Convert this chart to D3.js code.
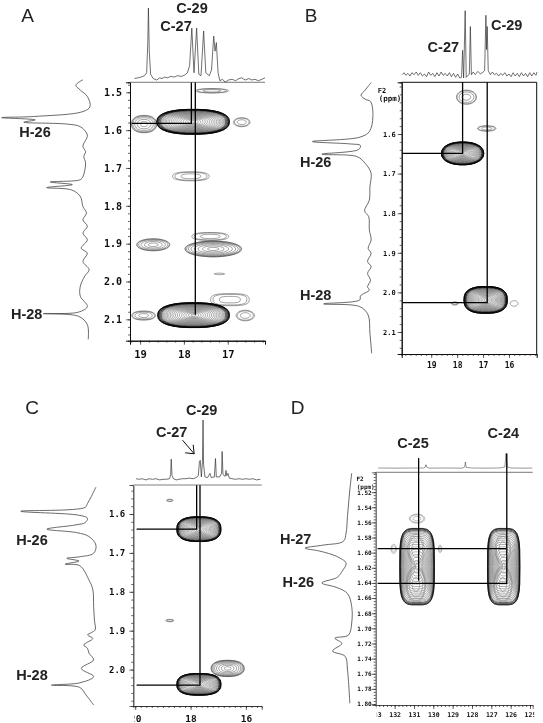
<!DOCTYPE html>
<html>
<head>
<meta charset="utf-8">
<script src="https://cdnjs.cloudflare.com/ajax/libs/d3/7.8.5/d3.min.js"></script>
<style>
html,body{margin:0;padding:0;background:#fff}
svg{display:block}
</style>
</head>
<body>
<script>
// 13C projections: [ppm, intensity 0-100]
const aTop = [[19.13,2],[19.05,3],[18.98,4],[18.9,6],[18.85,10],[18.825,50],[18.81,100],[18.79,40],[18.76,8],[18.7,2],[18.62,0],[18.55,3],[18.5,2],[18.44,4],[18.38,3],[18.3,5],[18.22,4],[18.15,6],[18.05,5],[17.98,7],[17.92,10],[17.87,20],[17.82,72],[17.77,10],[17.71,72],[17.66,8],[17.61,6],[17.55,68],[17.5,10],[17.42,6],[17.37,14],[17.32,61],[17.29,40],[17.26,52],[17.22,10],[17.18,-1],[17.12,1],[17.06,-3],[16.98,0],[16.9,1],[16.82,-1],[16.75,2],[16.68,3],[16.6,0],[16.52,2],[16.45,0],[16.38,1],[16.3,-1],[16.22,1],[16.15,3]];
const bTop = [[20.12,2],[20.05,5],[19.98,1],[19.9,4],[19.82,0],[19.75,5],[19.66,2],[19.58,6],[19.5,1],[19.42,5],[19.34,0],[19.26,3],[19.18,-1],[19.1,6],[19.02,1],[18.94,4],[18.86,-1],[18.78,5],[18.7,0],[18.62,6],[18.54,1],[18.46,4],[18.38,0],[18.3,5],[18.22,-1],[18.14,4],[18.06,-2],[17.98,3],[17.9,-3],[17.83,-2],[17.79,39],[17.75,-3],[17.69,99],[17.65,-2],[17.6,0],[17.53,3],[17.49,75],[17.45,2],[17.38,6],[17.3,2],[17.2,7],[17.1,3],[17,6],[16.94,8],[16.89,92],[16.865,40],[16.84,75],[16.8,8],[16.72,2],[16.64,6],[16.56,2],[16.48,4],[16.4,0],[16.32,4],[16.24,1],[16.16,5],[16.08,0],[16,3],[15.92,-1],[15.84,5],[15.76,0],[15.68,4],[15.6,-1],[15.52,5],[15.44,0],[15.36,4],[15.28,-1],[15.2,5],[15.12,0],[15.04,5],[14.96,1],[14.92,6]];
const cTop = [[19.97,1],[19.85,0],[19.75,1],[19.62,-1],[19.5,1],[19.38,0],[19.25,1],[19.12,-1],[19,0],[18.88,0],[18.76,1],[18.72,8],[18.7,34],[18.67,6],[18.62,1],[18.52,-1],[18.42,0],[18.3,1],[18.18,1],[18.05,2],[17.9,1],[17.8,3],[17.72,6],[17.68,30],[17.65,32],[17.61,4],[17.57,30],[17.55,100],[17.53,25],[17.48,4],[17.38,3],[17.3,10],[17.25,3],[17.14,4],[17.1,35],[17.07,4],[16.95,4],[16.88,10],[16.86,47],[16.83,8],[16.75,5],[16.72,15],[16.69,6],[16.65,10],[16.6,2],[16.5,1],[16.38,0],[16.25,1],[16.12,0],[16,1],[15.88,0],[15.75,1],[15.62,-1],[15.48,0]];
const dTop = [[132.85,2],[132,1],[131,2],[130.5,2],[130.42,8],[130.38,24],[130.34,8],[130.2,1],[129.4,2],[128.5,1],[128.38,8],[128.34,42],[128.3,6],[128,2],[127,1],[126.5,3],[126.3,10],[126.24,100],[126.18,10],[126,2],[125.4,1],[124.88,2]];

// 1H projections: [ppm, intensity 0-100]
const aLeft = [[1.467,8],[1.481,16],[1.494,11],[1.511,3],[1.538,0],[1.551,8],[1.564,64],[1.567,100],[1.573,62],[1.579,75],[1.584,26],[1.591,11],[1.613,3],[1.643,8],[1.657,5],[1.67,7],[1.687,5],[1.723,8],[1.731,11],[1.737,45],[1.744,20],[1.752,49],[1.758,21],[1.775,11],[1.802,8],[1.819,4],[1.837,8],[1.854,3],[1.872,8],[1.89,3],[1.912,10],[1.925,3],[1.947,8],[1.969,1],[1.986,6],[2.013,11],[2.039,11],[2.066,3],[2.081,13],[2.085,53],[2.092,13],[2.114,3],[2.153,2]];
const bLeft = [[1.47,1],[1.489,11],[1.502,18],[1.512,11],[1.518,2],[1.556,-2],[1.594,4],[1.608,20],[1.619,100],[1.625,37],[1.629,19],[1.639,22],[1.651,84],[1.657,25],[1.674,11],[1.699,1],[1.733,3],[1.767,4],[1.794,12],[1.809,5],[1.842,4],[1.868,1],[1.889,6],[1.901,1],[1.922,7],[1.935,1],[1.952,7],[1.969,2],[1.986,7],[1.994,4],[2.009,19],[2.019,20],[2.029,81],[2.036,20],[2.057,6],[2.103,3],[2.154,0]];
const cLeft = [[1.531,1],[1.555,7],[1.573,12],[1.583,15],[1.593,99],[1.603,24],[1.611,12],[1.622,15],[1.628,27],[1.639,65],[1.648,26],[1.658,10],[1.68,1],[1.701,4],[1.71,22],[1.714,39],[1.721,23],[1.729,41],[1.733,22],[1.77,10],[1.795,5],[1.838,4],[1.872,3],[1.898,2],[1.905,7],[1.911,12],[1.92,5],[1.937,17],[1.945,12],[1.958,10],[1.975,4],[1.997,20],[2.018,4],[2.034,22],[2.04,59],[2.046,22],[2.065,14],[2.091,4]];
const dLeft = [[1.495,0],[1.517,4],[1.552,9],[1.574,12],[1.585,18],[1.59,61],[1.594,100],[1.598,68],[1.605,32],[1.614,12],[1.625,21],[1.628,24],[1.633,32],[1.64,64],[1.646,32],[1.654,9],[1.671,0],[1.693,0],[1.709,7],[1.713,36],[1.72,21],[1.73,41],[1.737,14],[1.755,9],[1.799,4]];

// cross peaks: [13C ppm, 1H ppm, half width C, half width H, contour count, squareness]
const aPeaks = [[18.91,1.584,0.29,0.023,6,2.2],[18.92,2.09,0.27,0.012,4,2.2],[16.68,1.579,0.19,0.012,3,2],[17.36,1.496,0.38,0.006,3,2],[17.84,1.722,0.42,0.012,3,2.4],[17.4,1.881,0.42,0.0105,3,2.4],[17.33,1.914,0.65,0.021,9,2],[18.7,1.903,0.38,0.016,6,2],[17.19,1.98,0.12,0.002,1,2],[16.95,2.048,0.44,0.016,3,3],[16.6,2.09,0.21,0.014,3,2],[17.79,1.578,0.83,0.033,26,2.4],[17.78,2.089,0.82,0.033,26,2.4]];
const bPeaks = [[17.79,1.649,0.82,0.029,26,2.2],[16.9,2.019,0.84,0.034,26,2.6],[17.64,1.507,0.39,0.018,4,2],[16.86,1.586,0.36,0.007,3,2],[15.8,2.028,0.15,0.007,1,2],[18.09,2.028,0.13,0.004,2,2]];
const cPeaks = [[16.66,1.997,0.6,0.021,9,2.3],[17.7,1.639,0.8,0.032,24,2.6],[17.7,2.038,0.8,0.028,24,2.6],[18.75,1.565,0.12,0.003,2,2],[18.75,1.874,0.15,0.003,2,2]];
const dPeaks = [[130.84,1.555,0.4,0.006,3,2],[132.05,1.595,0.14,0.006,2,2],[129.65,1.595,0.09,0.005,2,2],[130.84,1.6185,0.9,0.0507,20,4],[126.36,1.6185,0.84,0.0507,20,4],[130.9,1.5955,0.42,0.02,3,2],[130.9,1.642,0.5,0.024,4,2],[126.4,1.5955,0.4,0.02,3,2],[126.4,1.642,0.48,0.024,4,2]];

// correlation lines: [13C ppm, 1H ppm]
const aLines = [[[17.83,1.474],[17.83,1.582],[19.19,1.582]],[[17.74,1.474],[17.74,2.088]]];
const bLines = [[[17.79,1.469],[17.79,1.649],[20.12,1.649]],[[16.84,1.469],[16.84,2.026],[20.1,2.026]]];
const cLines = [[[17.78,1.526],[17.78,1.639],[19.95,1.639]],[[17.66,1.526],[17.66,2.04],[19.95,2.04]]];
const dLines = [[[130.76,1.475],[130.76,1.637]],[[126.2,1.469],[126.2,1.6405],[132.88,1.6405]],[[126.24,1.5947],[132.88,1.5947]]];

// tick labels
const aYTicks = [1.5,1.6,1.7,1.8,1.9,2,2.1], aXTicks = [19,18,17];
const bYTicks = [1.6,1.7,1.8,1.9,2,2.1], bXTicks = [19,18,17,16];
const cYTicks = [1.6,1.7,1.8,1.9,2], cXTicks = [20,18,16];
const dYTicks = [1.52,1.54,1.56,1.58,1.6,1.62,1.64,1.66,1.68,1.7,1.72,1.74,1.76,1.78,1.8];
const dXTicks = [133,132,131,130,129,128,127,126,125];

const svg = d3.select("body").append("svg").attr("width",543).attr("height",723)
const defs = svg.append("defs")
defs.append("filter").attr("id","soft")
    .append("feGaussianBlur").attr("stdDeviation",0.35)
const root = svg.append("g").attr("filter","url(#soft)")

function label(t,x,y,size,weight){
    root.append("text").attr("x",x).attr("y",y).attr("text-anchor","middle")
        .attr("font-family","'Liberation Sans',Arial,sans-serif")
        .attr("font-size",size).attr("font-weight",weight||"bold").attr("fill","#222").text(t)
}

function panel(p){
    const x = d3.scaleLinear().domain(p.xDomain).range([p.left,p.right])
    const y = d3.scaleLinear().domain(p.yDomain).range([p.top,p.bottom])
    const topY = d3.scaleLinear().domain([0,100]).range(p.topRange)
    const leftX = d3.scaleLinear().domain([0,100]).range(p.leftRange)
    const g = root.append("g")

    // contours, outer rings crowd together and read as a black edge
    p.peaks.forEach(d=>{
        const n = d[4], e = d[5], big = n>=13
        for(let i=0;i<n;i++){
            const t = 1-Math.pow(i/n,p.crowd||1.9)
            const pts = d3.range(0,360,12).map(a=>{
                const r = a*Math.PI/180, c = Math.cos(r), s = Math.sin(r)
                return [d[0]+d[2]*t*Math.sign(c)*Math.pow(Math.abs(c),2/e),
                        d[1]+d[3]*t*Math.sign(s)*Math.pow(Math.abs(s),2/e)]
            })
            g.append("path").datum(pts)
             .attr("d",d3.line().x(v=>x(v[0])).y(v=>y(v[1])).curve(d3.curveLinearClosed))
             .attr("fill","none")
             .attr("stroke", big ? (i<p.blackRings ? "#000" : "#333") : (p.faint||"#444"))
             .attr("stroke-width", big ? (i<p.blackRings ? p.edgeW : 0.4) : 0.5)
        }
    })

    // axes
    const yAxis = d3.axisLeft(y).tickValues(p.yTicks).tickSize(4).tickPadding(p.yPad)
                    .tickFormat(d3.format(p.yFormat))
    const yG = g.append("g").attr("transform",`translate(${p.left},0)`).call(yAxis)
    const yMinor = d3.axisLeft(y).tickValues(d3.range(Math.ceil(p.yDomain[0]/p.yStep),p.yDomain[1]/p.yStep).map(v=>v*p.yStep))
                     .tickSize(2).tickFormat("")
    g.append("g").attr("transform",`translate(${p.left},0)`).call(yMinor)
    const xAxis = d3.axisBottom(x).tickValues(p.xTicks).tickSize(4).tickPadding(p.xPad)
                    .tickFormat(d3.format("d"))
    const clipId = "clip"+p.name
    defs.append("clipPath").attr("id",clipId).append("rect")
        .attr("x",p.left-(p.clipL===undefined?20:p.clipL)).attr("y",-5)
        .attr("width",p.right-p.left+(p.clipL===undefined?20:p.clipL)+(p.clipR===undefined?20:p.clipR)).attr("height",40)
    const xG = g.append("g").attr("transform",`translate(0,${p.bottom})`).attr("clip-path",`url(#${clipId})`).call(xAxis)
    const xMinor = d3.axisBottom(x).tickValues(d3.range(Math.ceil(p.xDomain[1]/p.xStep),p.xDomain[0]/p.xStep).map(v=>v*p.xStep))
                     .tickSize(2).tickFormat("")
    g.append("g").attr("transform",`translate(0,${p.bottom})`).call(xMinor)
    g.selectAll(".domain").attr("stroke","#111").attr("stroke-width",p.axisW||1)
    g.selectAll(".tick line").attr("stroke","#222").attr("stroke-width",0.7)
    ;[[yG,p.yFont],[xG,p.xFont]].forEach(a=>{
        a[0].selectAll("text").attr("font-family","'DejaVu Sans Mono',monospace")
            .attr("font-weight","bold").attr("font-size",a[1]).attr("fill","#111")
    })
    g.append("line").attr("x1",p.left).attr("x2",p.right).attr("y1",p.top).attr("y2",p.top)
     .attr("stroke",p.topColor).attr("stroke-width",p.topW)
    if(p.boxed){
        g.append("line").attr("x1",p.right).attr("x2",p.right).attr("y1",p.top).attr("y2",p.bottom)
         .attr("stroke","#111").attr("stroke-width",1)
    }

    // projections
    g.append("path").datum(p.trace)
     .attr("d",d3.line().x(v=>x(v[0])).y(v=>topY(v[1])))
     .attr("fill","none").attr("stroke","#333").attr("stroke-width",p.traceW||0.7)
    g.append("path").datum(p.side)
     .attr("d",d3.line().x(v=>leftX(v[1])).y(v=>y(v[0])).curve(d3.curveCatmullRom.alpha(0.5)))
     .attr("fill","none").attr("stroke","#444").attr("stroke-width",0.8)

    // correlation lines
    p.lines.forEach(l=>{
        g.append("path").datum(l)
         .attr("d",d3.line().x(v=>x(v[0])).y(v=>y(v[1])))
         .attr("fill","none").attr("stroke","#000").attr("stroke-width",1.3)
    })
    return {x,topY}
}

panel({name:"A",xDomain:[19.23,16.15],yDomain:[1.4736,2.1565],left:130,right:265,top:82.3,bottom:340.7,
       topRange:[80,8],leftRange:[90,1.7],peaks:aPeaks,trace:aTop,side:aLeft,lines:aLines,
       yTicks:aYTicks,xTicks:aXTicks,yPad:4,xPad:6,yFormat:".1f",yFont:10,xFont:10.5,yStep:0.02,xStep:0.2,
       topColor:"#555",topW:0.8,blackRings:9,edgeW:0.6})
panel({name:"B",xDomain:[20.14,14.93],yDomain:[1.4694,2.1556],left:401.7,right:536.7,top:82.3,bottom:354,
       topRange:[76,10],leftRange:[371.7,312.4],peaks:bPeaks,trace:bTop,side:bLeft,lines:bLines,
       yTicks:bYTicks,xTicks:bXTicks,yPad:2,xPad:4,yFormat:".1f",yFont:7,xFont:8,yStep:0.02,xStep:0.2,
       topColor:"#111",topW:1,boxed:true,blackRings:9,edgeW:0.6})
const pc = panel({name:"C",xDomain:[20.07,15.43],yDomain:[1.5255,2.0936],left:133.3,right:261.7,top:485,bottom:706,
       topRange:[479.3,420],leftRange:[96.7,20],peaks:cPeaks,trace:cTop,side:cLeft,lines:cLines,
       yTicks:cYTicks,xTicks:cXTicks,yPad:4,xPad:5,yFormat:".1f",yFont:9,xFont:9.5,yStep:0.02,xStep:0.2,
       topColor:"#aaa",topW:1.6,axisW:0.6,clipL:-1.2,blackRings:8,edgeW:0.6})
panel({name:"D",xDomain:[132.98,124.86],yDomain:[1.4938,1.8013],left:375.7,right:532.7,top:472.3,bottom:705,
       topRange:[468.3,453.3],leftRange:[351.7,305],peaks:dPeaks,trace:dTop,side:dLeft,lines:dLines,
       yTicks:dYTicks,xTicks:dXTicks,yPad:0,xPad:3,yFormat:".2f",yFont:6,xFont:6.5,yStep:0.004,xStep:0.2,
       topColor:"#555",topW:0.8,axisW:0.5,clipL:-1.1,clipR:1.5,crowd:1.7,blackRings:5,edgeW:0.6,faint:"#777",traceW:0.5})

// arrow to C-27 in panel C
const arrowFrom = [18.29,66], arrowTo = [17.87,43]
const ax1 = pc.x(arrowFrom[0]), ay1 = pc.topY(arrowFrom[1]), ax2 = pc.x(arrowTo[0]), ay2 = pc.topY(arrowTo[1])
root.append("path").attr("d",`M${ax1},${ay1}L${ax2},${ay2}M${ax2-9},${ay2-1}L${ax2},${ay2}L${ax2-1},${ay2-9}`)
    .attr("fill","none").attr("stroke","#111").attr("stroke-width",1)

// F2 (ppm) captions
;[["F2",382,93,7],["(ppm)",390,101,7.5],["F2",360,481,6],["(ppm)",365.7,488.5,6]].forEach(c=>{
    root.append("text").attr("x",c[1]).attr("y",c[2]).attr("text-anchor","middle")
        .attr("font-family","'DejaVu Sans Mono',monospace").attr("font-weight","bold")
        .attr("font-size",c[3]).attr("fill","#111").text(c[0])
})

label("A",27.7,22,19,"normal"); label("B",311,22,19,"normal")
label("C",32,414,19,"normal"); label("D",297.7,414,19,"normal")
label("C-29",192,13,14.5); label("C-27",176,31,14.5); label("H-26",35,137,14.5); label("H-28",26.7,319,14.5)
label("C-27",443.3,52,14.5); label("C-29",506.7,30,14.5); label("H-26",315.7,167,14.5); label("H-28",315.7,300,14.5)
label("C-29",201.7,415.3,14.5); label("C-27",171.7,436.7,14.5); label("H-26",32,545,14.5); label("H-28",32,680,14.5)
label("C-25",413,448,14.5); label("C-24",503.3,438,14.5); label("H-27",295.7,544,14.5); label("H-26",298.3,587,14.5)
</script>
</body>
</html>
